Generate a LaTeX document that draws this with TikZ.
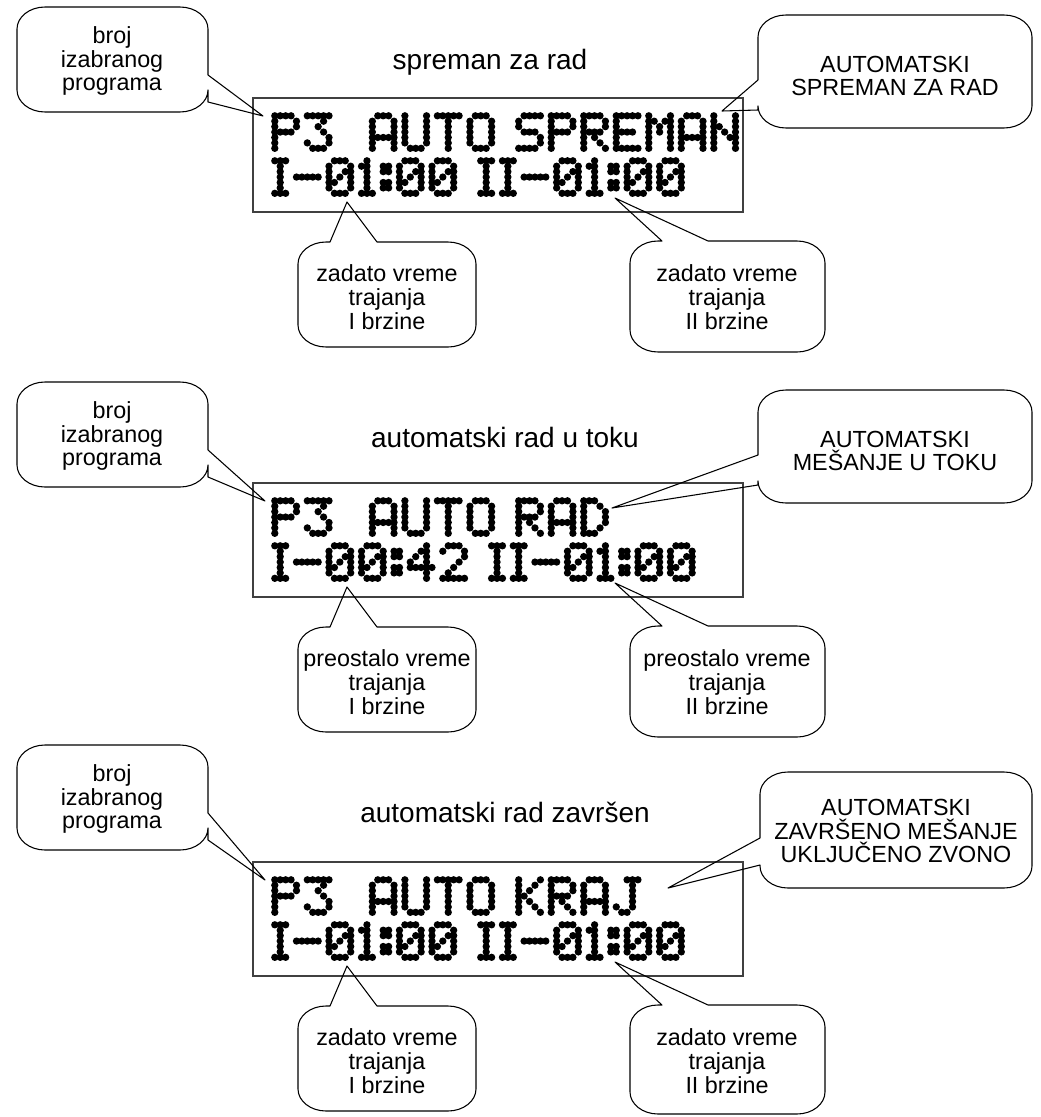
\documentclass[tikz,border=0pt]{standalone}
\usepackage{fontspec}
\setmainfont{Liberation Sans}
\newcount\lcdcol
\newcount\lcdcc
\def\lcdp{5.42}
\def\crx{28}
\def\cry{22}
\makeatletter
\newcommand\lcddef[9]{\expandafter\def\csname lcdw@#1\endcsname{#2}%
  \expandafter\def\csname lcdr@#1\endcsname{{#3}{#4}{#5}{#6}{#7}{#8}{#9}}}
\def\lcddrawrows#1#2#3#4#5#6#7{\lcdrowdo{0}{#1}\lcdrowdo{1}{#2}\lcdrowdo{2}{#3}\lcdrowdo{3}{#4}\lcdrowdo{4}{#5}\lcdrowdo{5}{#6}\lcdrowdo{6}{#7}}
\def\lcdrowdo#1#2{\def\lcdcurrow{#1}\lcdcc=0\relax\lcdparse#2\relax}
\def\lcdparse#1{\ifx#1\relax\else\if x#1\lcdonedot\fi\advance\lcdcc by 1\relax\expandafter\lcdparse\fi}
\def\lcdonedot{\fill ({\lcdX+(\the\lcdcol+\the\lcdcc)*\lcdp},{\lcdY+\lcdcurrow*\lcdp}) circle[radius=2.75pt];}
\def\lcdglyph#1{\expandafter\expandafter\expandafter\lcddrawrows\csname lcdr@#1\endcsname
  \global\advance\lcdcol by \csname lcdw@#1\endcsname\relax\global\advance\lcdcol by 1\relax}
\newcommand\lcdstr[3]{\def\lcdX{#1}\def\lcdY{#2}\global\lcdcol=0\relax\foreach \g in {#3}{\lcdglyph{\g}}}
\makeatother
\lcddef{P}{5}{xxxx.}{x...x}{x...x}{xxxx.}{x....}{x....}{x....}
\lcddef{3}{5}{xxxxx}{...x.}{..x..}{...x.}{....x}{x...x}{.xxx.}
\lcddef{A}{5}{.xxx.}{x...x}{x...x}{x...x}{xxxxx}{x...x}{x...x}
\lcddef{U}{5}{x...x}{x...x}{x...x}{x...x}{x...x}{x...x}{.xxx.}
\lcddef{T}{5}{xxxxx}{..x..}{..x..}{..x..}{..x..}{..x..}{..x..}
\lcddef{O}{5}{.xxx.}{x...x}{x...x}{x...x}{x...x}{x...x}{.xxx.}
\lcddef{S}{5}{.xxxx}{x....}{x....}{.xxx.}{....x}{....x}{xxxx.}
\lcddef{R}{5}{xxxx.}{x...x}{x...x}{xxxx.}{x.x..}{x..x.}{x...x}
\lcddef{E}{5}{xxxxx}{x....}{x....}{xxxx.}{x....}{x....}{xxxxx}
\lcddef{M}{5}{x...x}{xx.xx}{x.x.x}{x.x.x}{x...x}{x...x}{x...x}
\lcddef{N}{5}{x...x}{x...x}{xx..x}{x.x.x}{x..xx}{x...x}{x...x}
\lcddef{D}{5}{xxx..}{x..x.}{x...x}{x...x}{x...x}{x..x.}{xxx..}
\lcddef{K}{5}{x...x}{x..x.}{x.x..}{xx...}{x.x..}{x..x.}{x...x}
\lcddef{J}{5}{..xxx}{...x.}{...x.}{...x.}{...x.}{x..x.}{.xx..}
\lcddef{I}{3}{xxx}{.x.}{.x.}{.x.}{.x.}{.x.}{xxx}
\lcddef{-}{5}{.....}{.....}{.....}{xxxxx}{.....}{.....}{.....}
\lcddef{0}{5}{.xxx.}{x...x}{x..xx}{x.x.x}{xx..x}{x...x}{.xxx.}
\lcddef{1}{3}{.x.}{xx.}{.x.}{.x.}{.x.}{.x.}{xxx}
\lcddef{:}{2}{..}{xx}{xx}{..}{xx}{xx}{..}
\lcddef{4}{5}{...x.}{..xx.}{.x.x.}{x..x.}{xxxxx}{...x.}{...x.}
\lcddef{2}{5}{.xxx.}{x...x}{....x}{...x.}{..x..}{.x...}{xxxxx}
\lcddef{sp}{2}{..}{..}{..}{..}{..}{..}{..}
% callouts: box x1,y1,x2,y2 ; tail base ; tip
\newcommand\callR[7]{\draw[cbox] (#3,#5) -- (#7) -- (#3,#6) -- (#3,#4-\cry) .. controls (#3,#4-0.45*\cry) and (#3-0.45*\crx,#4) .. (#3-\crx,#4) -- (#1+\crx,#4) .. controls (#1+0.45*\crx,#4) and (#1,#4-0.45*\cry) .. (#1,#4-\cry) -- (#1,#2+\cry) .. controls (#1,#2+0.45*\cry) and (#1+0.45*\crx,#2) .. (#1+\crx,#2) -- (#3-\crx,#2) .. controls (#3-0.45*\crx,#2) and (#3,#2+0.45*\cry) .. (#3,#2+\cry) -- cycle;}
\newcommand\callL[7]{\draw[cbox] (#1,#6) -- (#7) -- (#1,#5) -- (#1,#2+\cry) .. controls (#1,#2+0.45*\cry) and (#1+0.45*\crx,#2) .. (#1+\crx,#2) -- (#3-\crx,#2) .. controls (#3-0.45*\crx,#2) and (#3,#2+0.45*\cry) .. (#3,#2+\cry) -- (#3,#4-\cry) .. controls (#3,#4-0.45*\cry) and (#3-0.45*\crx,#4) .. (#3-\crx,#4) -- (#1+\crx,#4) .. controls (#1+0.45*\crx,#4) and (#1,#4-0.45*\cry) .. (#1,#4-\cry) -- cycle;}
\newcommand\callT[7]{\draw[cbox] (#5,#2) -- (#7) -- (#6,#2) -- (#3-\crx,#2) .. controls (#3-0.45*\crx,#2) and (#3,#2+0.45*\cry) .. (#3,#2+\cry) -- (#3,#4-\cry) .. controls (#3,#4-0.45*\cry) and (#3-0.45*\crx,#4) .. (#3-\crx,#4) -- (#1+\crx,#4) .. controls (#1+0.45*\crx,#4) and (#1,#4-0.45*\cry) .. (#1,#4-\cry) -- (#1,#2+\cry) .. controls (#1,#2+0.45*\cry) and (#1+0.45*\crx,#2) .. (#1+\crx,#2) -- cycle;}
\begin{document}
\begin{tikzpicture}[x=0.75pt,y=-0.75pt,
  cbox/.style={draw=black,line width=0.8pt,line join=round},
  lcdbox/.style={draw=black!75,line width=0.9pt},
  ctext/.style={align=center,inner sep=0pt,font=\fontsize{17.5pt}{17.8pt}\selectfont},
  ttext/.style={inner sep=0pt,font=\fontsize{21pt}{24pt}\selectfont}]
\fill[white] (0,0) rectangle (1040,1117);
\useasboundingbox (0,0) rectangle (1040,1117);
% ---------- panel 1 ----------
\node[ttext] (title1) at (490,62) {spreman za rad};
\draw[lcdbox] (253,98) rectangle (743,212);
\lcdstr{274.8}{115.8}{P,3,sp,sp,A,U,T,O,sp,S,P,R,E,M,A,N}
\lcdstr{274.8}{160.8}{I,-,0,1,:,0,0,sp,I,I,-,0,1,:,0,0}
\coordinate (tipA1) at (263,116);
\coordinate (tipB1) at (722,111);
\coordinate (tipC1) at (347,202);
\coordinate (tipD1) at (615,198);
\callR{17}{7}{208}{112}{75}{102}{tipA1}
\callL{758}{15}{1032}{128}{80}{110}{tipB1}
\callT{298}{242}{476}{347}{330}{377}{tipC1}
\callT{630}{241}{825}{352}{662}{708}{tipD1}
\node[ctext] (a1) at (112,61) {broj\\izabranog\\programa};
\node[ctext] (b1) at (895,76) {AUTOMATSKI\\SPREMAN ZA RAD};
\node[ctext] (c1) at (387,297) {zadato vreme\\trajanja\\I brzine};
\node[ctext] (d1) at (727,297) {zadato vreme\\trajanja\\II brzine};
% ---------- panel 2 ----------
\node[ttext] (title2) at (505,437) {automatski rad u toku};
\draw[lcdbox] (253,483) rectangle (743,597);
\lcdstr{274.8}{500.8}{P,3,sp,sp,A,U,T,O,sp,R,A,D}
\lcdstr{274.8}{545.8}{I,-,0,0,:,4,2,sp,I,I,-,0,1,:,0,0}
\coordinate (tipA2) at (265,501);
\coordinate (tipB2) at (612,508);
\coordinate (tipC2) at (347,587);
\coordinate (tipD2) at (615,583);
\callR{17}{382}{208}{487}{450}{477}{tipA2}
\callL{758}{390}{1032}{503}{455}{485}{tipB2}
\callT{298}{627}{476}{732}{330}{377}{tipC2}
\callT{630}{626}{825}{737}{662}{708}{tipD2}
\node[ctext] (a2) at (112,436) {broj\\izabranog\\programa};
\node[ctext] (b2) at (895,451) {AUTOMATSKI\\MEŠANJE U TOKU};
\node[ctext] (c2) at (387,682) {preostalo vreme\\trajanja\\I brzine};
\node[ctext] (d2) at (727,682) {preostalo vreme\\trajanja\\II brzine};
% ---------- panel 3 ----------
\node[ttext] (title3) at (505,812) {automatski rad završen};
\draw[lcdbox] (253,862) rectangle (743,976);
\lcdstr{274.8}{879.8}{P,3,sp,sp,A,U,T,O,sp,K,R,A,J}
\lcdstr{274.8}{924.8}{I,-,0,1,:,0,0,sp,I,I,-,0,1,:,0,0}
\coordinate (tipA3) at (265,880);
\coordinate (tipB3) at (668,888);
\coordinate (tipC3) at (347,966);
\coordinate (tipD3) at (615,962);
\callR{17}{745}{208}{850}{813}{840}{tipA3}
\callL{760}{772}{1032}{888}{838}{865}{tipB3}
\callT{298}{1006}{476}{1111}{330}{377}{tipC3}
\callT{630}{1005}{825}{1114}{662}{708}{tipD3}
\node[ctext] (a3) at (112,799) {broj\\izabranog\\programa};
\node[ctext] (b3) at (896,831) {AUTOMATSKI\\ZAVRŠENO MEŠANJE\\UKLJUČENO ZVONO};
\node[ctext] (c3) at (387,1061) {zadato vreme\\trajanja\\I brzine};
\node[ctext] (d3) at (727,1061) {zadato vreme\\trajanja\\II brzine};
\end{tikzpicture}
\end{document}
